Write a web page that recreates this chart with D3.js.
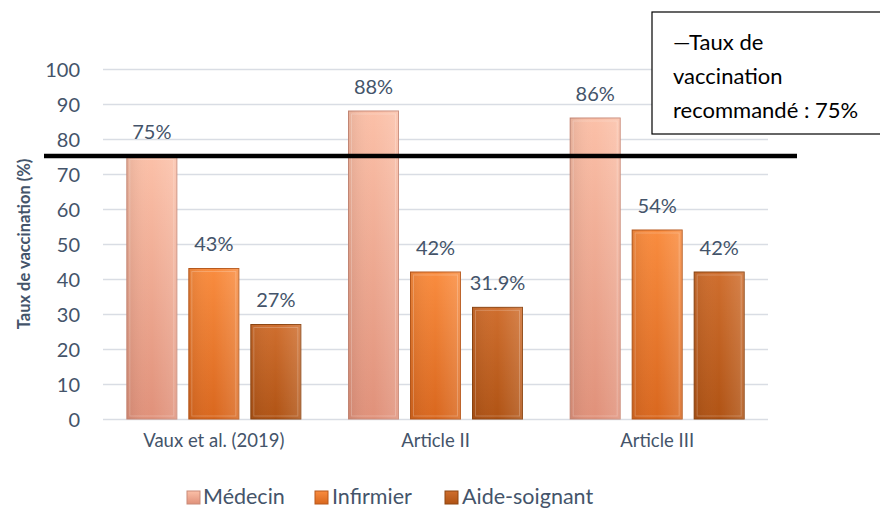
<!DOCTYPE html>
<html><head><meta charset="utf-8">
<script src="https://cdn.jsdelivr.net/npm/d3@7"></script>
<style>body{margin:0;background:#fff}svg{display:block}</style>
</head><body>
<svg id="c" width="880" height="510"></svg>
<script>
const categories = ["Vaux et al. (2019)", "Article II", "Article III"];
const seriesNames = ["Médecin", "Infirmier", "Aide-soignant"];
const medecin = [75, 88, 86];
const infirmier = [43, 42, 54];
const aideSoignant = [27, 31.9, 42];
const labels = [["75%","43%","27%"],["88%","42%","31.9%"],["86%","54%","42%"]];
const yTicks = [0,10,20,30,40,50,60,70,80,90,100];
const threshold = 75;
const thresholdText = ["—Taux de", "vaccination", "recommandé : 75%"];

const values = [medecin, infirmier, aideSoignant];
const colors = [
  {top:"#FBC0A8", bot:"#E0917A", stroke:"#C98A78"},
  {top:"#F98C3F", bot:"#D9671E", stroke:"#B8591C"},
  {top:"#CF6E2E", bot:"#B05314", stroke:"#8E4612"}
];
const FONT = "Lato, 'Open Sans', sans-serif";
const TXT = "#44546A";

const svg = d3.select("#c");
const m = {left:103, right:768, top:69, bottom:419};
const x0 = d3.scaleBand().domain(categories).range([m.left, m.right]).padding(0);
const x1 = d3.scaleBand().domain(seriesNames).range([0, 174]).paddingInner(12/62).paddingOuter(0);
const y = d3.scaleLinear().domain([0,100]).range([m.bottom, m.top]);

const defs = svg.append("defs");
colors.forEach((c,i)=>{
  const g = defs.append("linearGradient").attr("id","g"+i).attr("x1",0).attr("y1",0).attr("x2",0).attr("y2",1);
  g.append("stop").attr("offset","0%").attr("stop-color",c.top);
  g.append("stop").attr("offset","100%").attr("stop-color",c.bot);
  const h = defs.append("linearGradient").attr("id","h"+i).attr("x1",0).attr("y1",0).attr("x2",1).attr("y2",0);
  h.append("stop").attr("offset","0%").attr("stop-color","#000").attr("stop-opacity",0.08);
  h.append("stop").attr("offset","50%").attr("stop-color","#fff").attr("stop-opacity",0.0);
  h.append("stop").attr("offset","100%").attr("stop-color","#fff").attr("stop-opacity",0.15);
});

// gridlines + y ticks
const yAxis = d3.axisLeft(y).tickValues(yTicks).tickSize(-(m.right-m.left)).tickPadding(23);
const ga = svg.append("g").attr("transform",`translate(${m.left},0)`).call(yAxis);
ga.select(".domain").remove();
ga.selectAll(".tick line").attr("stroke","#D9DDE4").attr("stroke-width",1.3);
ga.selectAll(".tick text").attr("fill",TXT).attr("dy","0.36em").style("font-family",FONT).style("font-size","20px");

// x labels
const xa = svg.append("g").attr("transform",`translate(0,${m.bottom})`).call(d3.axisBottom(x0).tickSize(0).tickPadding(0));
xa.select(".domain").remove();
xa.selectAll(".tick text").attr("fill",TXT).attr("y",28).attr("dy",0).style("font-family",FONT).style("font-size","18.5px");

// bars
const off = (x0.bandwidth()-174)/2;
categories.forEach((cat,ci)=>{
  seriesNames.forEach((s,si)=>{
    const v = values[si][ci];
    const bx = x0(cat)+off+x1(s), bw = x1.bandwidth();
    const by = y(v), bh = y(0)-y(v);
    const g = svg.append("g");
    g.append("rect").attr("x",bx).attr("y",by).attr("width",bw).attr("height",bh)
      .attr("fill",`url(#g${si})`).attr("stroke",colors[si].stroke).attr("stroke-width",1);
    g.append("rect").attr("x",bx).attr("y",by).attr("width",bw).attr("height",bh).attr("fill",`url(#h${si})`);
    g.append("rect").attr("x",bx+3).attr("y",by+3).attr("width",bw-6).attr("height",Math.max(0,bh-6))
      .attr("fill","none").attr("stroke","#fff").attr("stroke-opacity",0.22).attr("stroke-width",1);
    svg.append("text").attr("x",bx+bw/2).attr("y",by-17.5).attr("text-anchor","middle")
      .attr("fill",TXT).style("font-family",FONT).style("font-size","20px").text(labels[ci][si]);
  });
});

// threshold line
svg.append("line").attr("x1",44).attr("x2",797).attr("y1",y(threshold)-0.5).attr("y2",y(threshold)-0.5)
  .attr("stroke","#000").attr("stroke-width",4.5);

// y title
svg.append("text").attr("transform",`translate(30,${(m.top+m.bottom)/2}) rotate(-90)`)
  .attr("text-anchor","middle").attr("fill",TXT).style("font-family",FONT).style("font-size","16.5px")
  .style("font-weight","bold").text("Taux de vaccination (%)");

// legend
const legSq = [187, 315, 445];
const legTx = [203, 332, 462];
seriesNames.forEach((s,i)=>{
  svg.append("rect").attr("x",legSq[i]).attr("y",491).attr("width",13).attr("height",13)
    .attr("fill",`url(#g${i})`).attr("stroke",colors[i].stroke).attr("stroke-width",1);
  svg.append("text").attr("x",legTx[i]).attr("y",504).attr("fill",TXT)
    .style("font-family",FONT).style("font-size","21.5px").text(s);
});

// threshold legend box
svg.append("rect").attr("x",652).attr("y",12).attr("width",240).attr("height",122)
  .attr("fill","#fff").attr("stroke","#000").attr("stroke-width",1.2);
thresholdText.forEach((t,i)=>{
  svg.append("text").attr("x",673).attr("y",50+i*34).attr("fill","#000")
    .style("font-family",FONT).style("font-size","22px").text(t);
});
</script>
</body></html>
